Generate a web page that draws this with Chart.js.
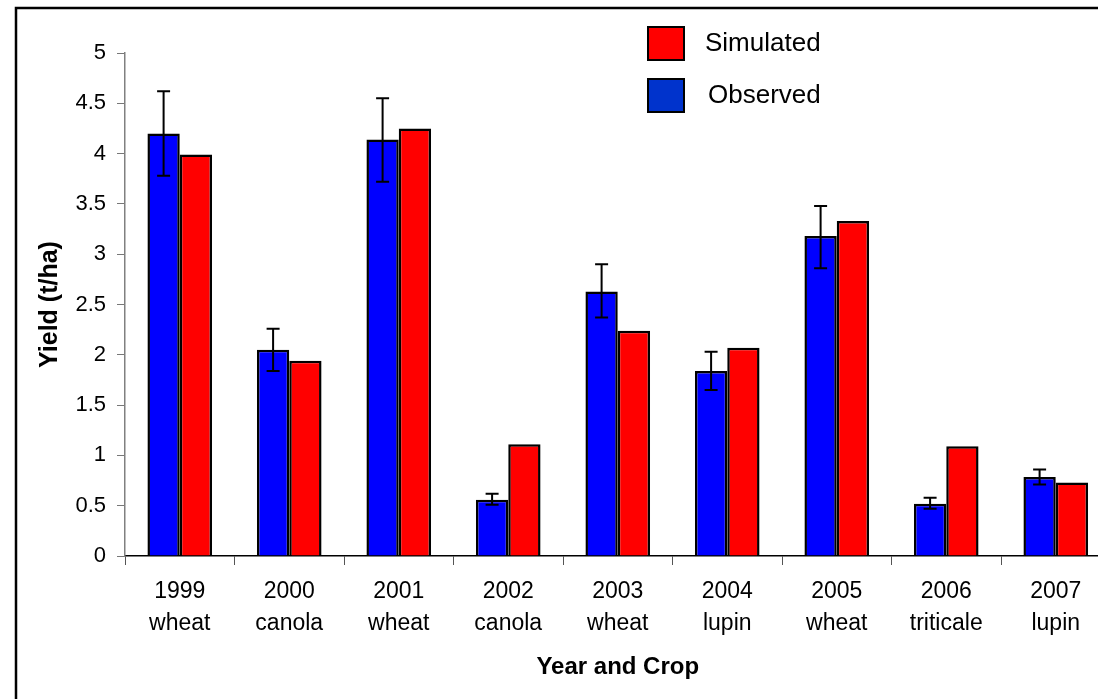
<!DOCTYPE html>
<html>
<head>
<meta charset="utf-8">
<script src="https://cdn.jsdelivr.net/npm/chart.js@4/dist/chart.umd.min.js"></script>
<style>
  html, body { margin: 0; padding: 0; background: #fff; overflow: hidden; }
  canvas { display: block; }
</style>
</head>
<body>
<canvas id="yieldChart" width="1130" height="699"></canvas>
<script>
const categories = [
  ['1999', 'wheat'], ['2000', 'canola'], ['2001', 'wheat'],
  ['2002', 'canola'], ['2003', 'wheat'], ['2004', 'lupin'],
  ['2005', 'wheat'], ['2006', 'triticale'], ['2007', 'lupin']
];
const observed  = [4.20, 2.05, 4.14, 0.56, 2.63, 1.84, 3.18, 0.52, 0.785];
const simulated = [3.99, 1.94, 4.25, 1.11, 2.24, 2.07, 3.33, 1.09, 0.73];
const obsLow    = [3.78, 1.84, 3.72, 0.51, 2.37, 1.65, 2.86, 0.47, 0.71];
const obsHigh   = [4.62, 2.26, 4.55, 0.62, 2.90, 2.03, 3.48, 0.58, 0.86];

const FONT = "Arial, 'Liberation Sans', sans-serif";

// outer frame of the original figure (right/bottom edges are cropped off)
const framePlugin = {
  id: 'frame',
  beforeDraw(chart) {
    const ctx = chart.ctx;
    ctx.save();
    ctx.fillStyle = '#fff';
    ctx.fillRect(0, 0, chart.width, chart.height);
    ctx.strokeStyle = '#000';
    ctx.lineWidth = 2.5;
    ctx.strokeRect(16, 8, chart.width + 20, chart.height + 20);
    ctx.restore();
  }
};

// error bars on the observed series
const errorBars = {
  id: 'errorBars',
  afterDatasetsDraw(chart) {
    const ctx = chart.ctx;
    const y = chart.scales.y;
    const meta = chart.getDatasetMeta(0);
    ctx.save();
    ctx.strokeStyle = '#000';
    ctx.lineWidth = 2;
    meta.data.forEach((bar, i) => {
      const top = y.getPixelForValue(obsHigh[i]);
      const bot = y.getPixelForValue(obsLow[i]);
      ctx.beginPath();
      ctx.moveTo(bar.x, top); ctx.lineTo(bar.x, bot);
      ctx.moveTo(bar.x - 6.5, top); ctx.lineTo(bar.x + 6.5, top);
      ctx.moveTo(bar.x - 6.5, bot); ctx.lineTo(bar.x + 6.5, bot);
      ctx.stroke();
    });
    ctx.restore();
  }
};

// legend drawn inside the plot, Simulated listed first
const boxLegend = {
  id: 'boxLegend',
  afterDraw(chart, args, opts) {
    const ctx = chart.ctx;
    ctx.save();
    ctx.font = '26px ' + FONT;
    ctx.textBaseline = 'middle';
    opts.items.forEach(it => {
      ctx.fillStyle = it.color;
      ctx.fillRect(it.x, it.y, 36, 33);
      ctx.strokeStyle = '#000';
      ctx.lineWidth = 2;
      ctx.strokeRect(it.x, it.y, 36, 33);
      ctx.fillStyle = '#000';
      ctx.fillText(it.label, it.tx, it.y + 17);
    });
    ctx.restore();
  }
};

new Chart(document.getElementById('yieldChart'), {
  type: 'bar',
  data: {
    labels: categories,
    datasets: [
      {
        label: 'Observed',
        data: observed,
        backgroundColor: '#0000ff',
        borderColor: '#000',
        borderWidth: 2.5,
        barPercentage: 1,
        categoryPercentage: 0.59
      },
      {
        label: 'Simulated',
        data: simulated,
        backgroundColor: '#ff0000',
        borderColor: '#000',
        borderWidth: 2.5,
        barPercentage: 1,
        categoryPercentage: 0.59
      }
    ]
  },
  options: {
    responsive: false,
    animation: false,
    devicePixelRatio: 1,
    layout: { padding: { left: 30, top: 53, right: 19.5, bottom: 0 } },
    plugins: {
      legend: { display: false },
      tooltip: { enabled: false },
      boxLegend: {
        items: [
          { label: 'Simulated', color: '#ff0000', x: 648, y: 27, tx: 705 },
          { label: 'Observed', color: '#0033cc', x: 648, y: 79, tx: 708 }
        ]
      }
    },
    scales: {
      x: {
        afterFit(scale) { scale.height = 143; },
        grid: {
          drawOnChartArea: false,
          drawTicks: true,
          tickLength: 9,
          tickColor: '#555',
          offset: true
        },
        border: { color: '#000', width: 1.5 },
        ticks: {
          color: '#000',
          padding: 11,
          maxRotation: 0,
          autoSkip: false,
          font: { family: FONT, size: 23, lineHeight: 1.39 }
        },
        title: {
          display: true,
          text: 'Year and Crop',
          color: '#000',
          padding: { top: 0, bottom: 17 },
          font: { family: FONT, size: 24, weight: 'bold' }
        }
      },
      y: {
        min: 0,
        max: 5,
        afterFit(scale) { scale.width = 95; },
        grid: {
          drawOnChartArea: false,
          drawTicks: true,
          tickLength: 8,
          tickColor: '#777'
        },
        border: { color: '#808080', width: 1.5 },
        ticks: {
          stepSize: 0.5,
          color: '#000',
          padding: 11,
          font: { family: FONT, size: 22 },
          callback: v => String(Math.round(v * 10) / 10)
        },
        title: {
          display: true,
          text: 'Yield (t/ha)',
          color: '#000',
          padding: { top: 5, bottom: 0 },
          font: { family: FONT, size: 25, weight: 'bold' }
        }
      }
    }
  },
  plugins: [framePlugin, errorBars, boxLegend]
});
</script>
</body>
</html>
